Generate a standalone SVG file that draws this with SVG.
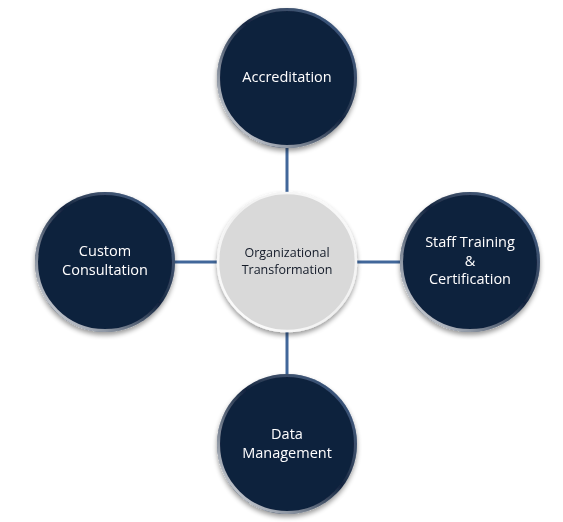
<svg xmlns="http://www.w3.org/2000/svg" width="563" height="522" viewBox="0 0 563 522">
<defs>
<style>
.node{fill:#11233e;}
.cnode{fill:#d9d9d9;}
.rim{fill:none;stroke:url(#rimg);stroke-width:3;}
.rim2{fill:none;stroke:url(#rimg2);stroke-width:2.5;}
.lbl{font-family:"Open Sans","Liberation Sans",sans-serif;font-size:14.5px;fill:#ffffff;text-anchor:middle;}
.clbl{font-family:"Open Sans","Liberation Sans",sans-serif;font-size:12.5px;fill:#121a28;text-anchor:middle;}
.conn{stroke:#41679a;stroke-width:3;fill:none;}
</style>
<linearGradient id="rimg" x1="0" y1="1" x2="1" y2="0">
<stop offset="0" stop-color="#ffffff" stop-opacity="0.95"/>
<stop offset="0.3" stop-color="#ffffff" stop-opacity="0.45"/>
<stop offset="0.55" stop-color="#ffffff" stop-opacity="0"/>
<stop offset="0.85" stop-color="#5f80b0" stop-opacity="0.5"/>
<stop offset="1" stop-color="#9fb8dd" stop-opacity="0.9"/>
</linearGradient>
<linearGradient id="rimg2" x1="0" y1="1" x2="1" y2="0">
<stop offset="0" stop-color="#ffffff" stop-opacity="1"/>
<stop offset="0.5" stop-color="#ffffff" stop-opacity="0.6"/>
<stop offset="1" stop-color="#ffffff" stop-opacity="0.9"/>
</linearGradient>
<filter id="sh" x="-20%" y="-20%" width="140%" height="140%">
<feGaussianBlur in="SourceAlpha" stdDeviation="2.5"/>
<feOffset dx="0" dy="3" result="b"/>
<feComponentTransfer><feFuncA type="linear" slope="0.4"/></feComponentTransfer>
<feMerge><feMergeNode/><feMergeNode in="SourceGraphic"/></feMerge>
</filter>
</defs>
<g id="connectors">
<line class="conn" x1="287" y1="148" x2="287" y2="193"/>
<line class="conn" x1="287" y1="332" x2="287" y2="374"/>
<line class="conn" x1="174" y1="262" x2="217" y2="262"/>
<line class="conn" x1="357" y1="262" x2="401" y2="262"/>
</g>
<g id="center" filter="url(#sh)">
<circle class="cnode" cx="287" cy="262" r="70"/>
<circle class="rim2" cx="287" cy="262" r="69"/>
<text class="clbl" x="287" y="257">Organizational</text>
<text class="clbl" x="287" y="274">Transformation</text>
</g>
<g id="accreditation" filter="url(#sh)">
<circle class="node" cx="287" cy="78" r="70"/>
<circle class="rim" cx="287" cy="78" r="68.5"/>
<text class="lbl" x="287" y="82">Accreditation</text>
</g>
<g id="staff" filter="url(#sh)">
<circle class="node" cx="470" cy="262" r="70"/>
<circle class="rim" cx="470" cy="262" r="68.5"/>
<text class="lbl" x="470" y="247">Staff Training</text>
<text class="lbl" x="470" y="266">&amp;</text>
<text class="lbl" x="470" y="284">Certification</text>
</g>
<g id="custom" filter="url(#sh)">
<circle class="node" cx="105" cy="262" r="70"/>
<circle class="rim" cx="105" cy="262" r="68.5"/>
<text class="lbl" x="105" y="256">Custom</text>
<text class="lbl" x="105" y="275">Consultation</text>
</g>
<g id="data" filter="url(#sh)">
<circle class="node" cx="287" cy="444" r="70"/>
<circle class="rim" cx="287" cy="444" r="68.5"/>
<text class="lbl" x="287" y="439">Data</text>
<text class="lbl" x="287" y="458">Management</text>
</g>
</svg>
